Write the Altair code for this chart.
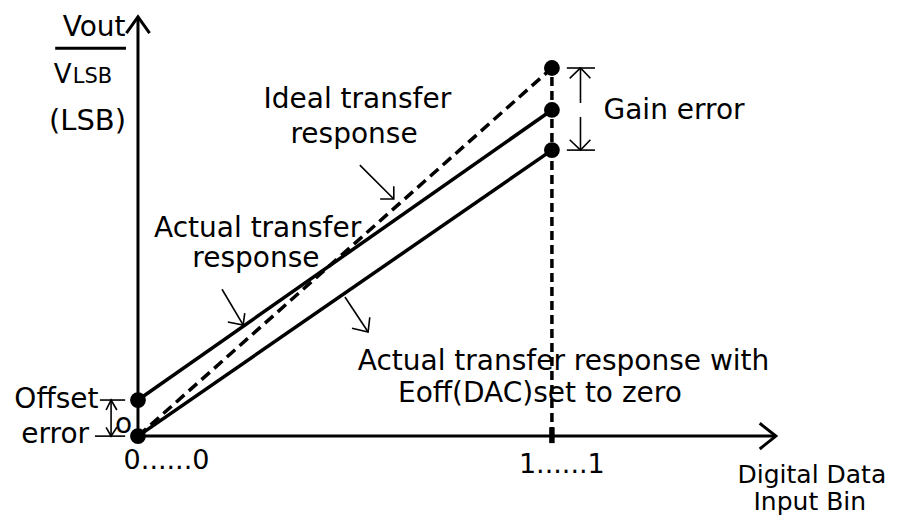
import altair as alt
import pandas as pd

# ---- transfer characteristics (x: input code, 0 = 0......0, 1 = 1......1 ; y: output, normalised LSB) ----
codes = [0.0, 1.0]
ideal_resp = [0.0, 1.0]
actual_resp = [0.098, 0.886]
zero_off_resp = [0.0, 0.777]

# end-point dots
dot_x = [0.0, 0.0, 1.0, 1.0, 1.0]
dot_y = [0.0, 0.098, 1.0, 0.886, 0.777]

# ---- axes ----
axis_lines = [
    [(0.0, 0.0), (0.0, 1.139)],                      # y axis
    [(-0.028, 1.095), (0.0, 1.139), (0.028, 1.095)],  # y arrow head
    [(0.0, 0.0), (1.541, 0.0)],                      # x axis
    [(1.502, 0.035), (1.541, 0.0), (1.502, -0.035)],  # x arrow head
    [(-0.2, 1.054), (-0.029, 1.054)],                # fraction bar Vout / VLSB
]
full_scale_line = [[(1.0, 0.0), (1.0, 1.0)]]
full_scale_tick = [[(1.0, -0.019), (1.0, 0.024)]]

# ---- thin annotation lines (brackets and leader arrows) ----
annot_lines = [
    # gain error bracket
    [(1.036, 1.0), (1.104, 1.0)],
    [(1.036, 0.777), (1.104, 0.777)],
    [(1.069, 0.905), (1.069, 1.0)],
    [(1.043, 0.972), (1.069, 1.0), (1.093, 0.972)],
    [(1.069, 0.867), (1.069, 0.777)],
    [(1.043, 0.805), (1.069, 0.777), (1.093, 0.805)],
    # offset error bracket
    [(-0.092, 0.098), (-0.031, 0.098)],
    [(-0.104, 0.0), (-0.031, 0.0)],
    [(-0.065, 0.0), (-0.065, 0.098)],
    [(-0.077, 0.071), (-0.065, 0.098), (-0.051, 0.071)],
    [(-0.077, 0.024), (-0.065, 0.0), (-0.051, 0.024)],
    # leader: actual transfer response
    [(0.203, 0.399), (0.254, 0.302)],
    [(0.217, 0.310), (0.254, 0.302), (0.258, 0.334)],
    # leader: ideal transfer response
    [(0.536, 0.736), (0.618, 0.644)],
    [(0.585, 0.644), (0.618, 0.644), (0.618, 0.679)],
    # leader: actual with Eoff set to zero
    [(0.500, 0.378), (0.556, 0.283)],
    [(0.517, 0.293), (0.556, 0.283), (0.560, 0.323)],
]

# ---- texts ----
labels = ["Vout", "V", "LSB", "(LSB)", "Ideal transfer", "response", "Actual transfer", "response",
          "Gain error", "Actual transfer response with", "Eoff(DAC)set to zero", "Offset", "error", "o",
          "0......0", "1......1", "Digital Data", "Input Bin"]
label_x = [-0.106, -0.182, -0.110, -0.122, 0.530, 0.522, 0.289, 0.285,
           1.295, 1.028, 0.971, -0.197, -0.200, -0.035,
           0.069, 1.024, 1.628, 1.623]
label_y = [1.087, 0.959, 0.959, 0.832, 0.891, 0.796, 0.542, 0.459,
           0.861, 0.179, 0.093, 0.076, -0.019, 0.008,
           -0.090, -0.101, -0.128, -0.201]
label_size = [28, 26, 21, 29, 28, 28, 28, 28,
              28, 28, 28, 28, 28, 28,
              27, 27, 25, 25]

# ---------------------------------------------------------------
def seg_df(polylines):
    rows = []
    for s, pl in enumerate(polylines):
        for i, (x, y) in enumerate(pl):
            rows.append({"seg": s, "i": i, "x": x, "y": y})
    return pd.DataFrame(rows)

xs = alt.Scale(domain=[-0.314, 1.824], nice=False, zero=False)
ys = alt.Scale(domain=[-0.217, 1.163], nice=False, zero=False)
X = alt.X("x:Q", scale=xs, axis=None)
Y = alt.Y("y:Q", scale=ys, axis=None)

curves = pd.DataFrame({
    "seg": ["actual"] * 2 + ["zero"] * 2,
    "i": [0, 1, 0, 1],
    "x": codes + codes,
    "y": actual_resp + zero_off_resp,
})
ideal_df = pd.DataFrame({"seg": ["ideal"] * 2, "i": [0, 1], "x": codes, "y": ideal_resp})

def lines(df, width, dash=None):
    kw = dict(color="black", strokeWidth=width, strokeCap="butt", strokeJoin="miter")
    if dash:
        kw["strokeDash"] = dash
    return alt.Chart(df).mark_line(**kw).encode(x=X, y=Y, detail="seg:N", order="i:Q")

solid_layer = lines(curves, 3.5)
ideal_layer = lines(ideal_df, 3.5, [11, 6])
vert_layer = lines(seg_df(full_scale_line), 3.5, [9, 5])
tick_layer = lines(seg_df(full_scale_tick), 5.5)
axis_lines_layer = lines(seg_df(axis_lines), 3)
annot_layer = lines(seg_df(annot_lines), 1.6)

dots = alt.Chart(pd.DataFrame({"x": dot_x, "y": dot_y})).mark_point(
    filled=True, color="black", opacity=1, size=250, shape="circle"
).encode(x=X, y=Y)

texts = alt.Chart(pd.DataFrame({"label": labels, "x": label_x, "y": label_y, "fs": label_size})).mark_text(
    font="DejaVu Sans", color="black", baseline="alphabetic", align="center"
).encode(x=X, y=Y, text="label:N", size=alt.Size("fs:Q", scale=None))

chart = alt.layer(
    axis_lines_layer, vert_layer, tick_layer, ideal_layer, solid_layer, annot_layer, dots, texts
).properties(
    width=885, height=508, autosize=alt.AutoSizeParams(type="none"), padding=0, background="white"
).configure_view(stroke=None)

chart.save("out.html", embed_options={"renderer": "svg", "actions": False})
